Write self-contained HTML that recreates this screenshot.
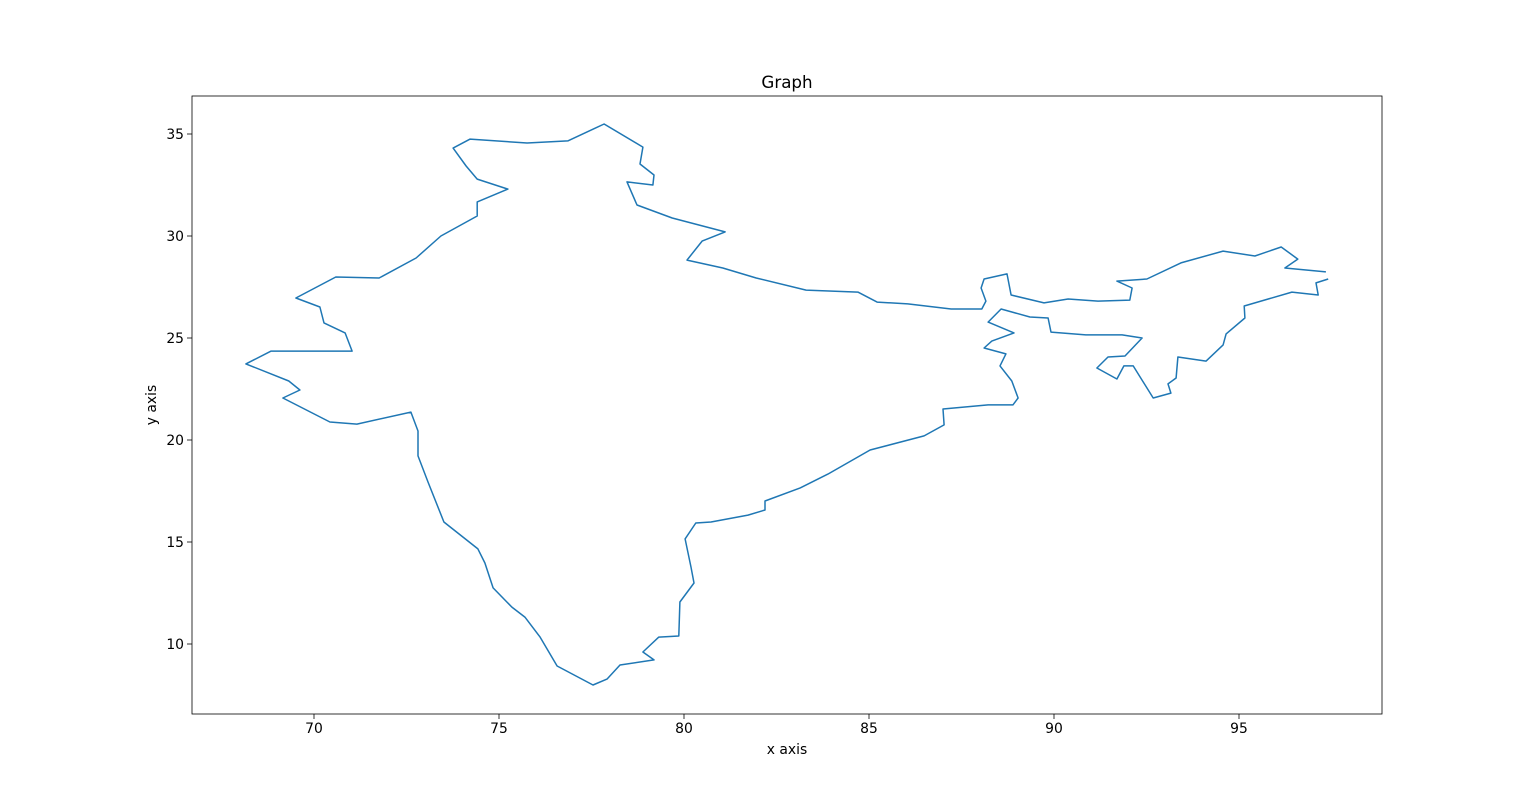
<!DOCTYPE html>
<html><head><meta charset="utf-8"><style>
html,body{margin:0;padding:0;background:#fff;}
svg{display:block;font-family:"DejaVu Sans","Liberation Sans",sans-serif;}
</style></head><body>
<svg id="chart" width="1536" height="802"></svg>
<script>
const lons=[97.41,97.08,97.14,96.43,95.14,95.16,94.65,94.57,94.11,93.35,93.30,93.08,93.16,92.68,92.14,91.89,91.70,91.16,91.46,91.92,92.38,91.84,90.86,89.92,89.84,89.35,88.57,88.22,88.92,88.32,88.11,88.70,88.54,88.86,89.03,88.89,88.22,87.00,87.03,86.49,85.03,83.89,83.14,82.19,82.19,81.73,80.73,80.32,80.03,80.19,80.27,79.89,79.86,79.32,78.89,79.19,78.27,77.92,77.54,76.57,76.11,75.70,75.35,74.84,74.62,74.43,73.51,73.08,72.81,72.81,72.62,71.16,70.43,69.16,69.62,69.32,68.16,68.84,71.03,70.84,70.27,70.16,69.51,70.59,71.76,72.76,73.43,74.41,74.41,75.24,74.41,74.11,73.76,74.22,75.76,76.86,77.84,78.89,78.81,79.19,79.16,78.46,78.73,79.68,81.11,80.49,80.08,81.05,81.95,83.30,84.70,85.22,86.05,87.22,88.05,88.16,88.03,88.11,88.73,88.84,89.73,90.38,91.19,92.05,92.11,91.70,92.51,93.43,94.57,95.43,96.14,96.59,96.24,97.35];
const lats=[27.89,27.70,27.11,27.25,26.57,25.98,25.20,24.66,23.87,24.07,23.04,22.75,22.30,22.06,23.63,23.63,22.99,23.53,24.07,24.12,25.00,25.15,25.15,25.29,25.98,26.03,26.42,25.78,25.25,24.85,24.51,24.22,23.63,22.89,22.06,21.72,21.72,21.52,20.74,20.20,19.51,18.33,17.65,17.01,16.57,16.32,15.98,15.93,15.15,13.77,12.99,12.06,10.39,10.34,9.61,9.22,8.97,8.28,7.99,8.92,10.34,11.32,11.81,12.75,13.97,14.66,15.98,17.94,19.22,20.44,21.37,20.78,20.88,22.06,22.45,22.89,23.73,24.36,24.36,25.25,25.74,26.52,26.96,27.99,27.94,28.92,30.00,30.98,31.67,32.30,32.79,33.43,34.31,34.75,34.56,34.66,35.49,34.36,33.53,32.99,32.50,32.65,31.52,30.88,30.20,29.75,28.82,28.43,27.94,27.35,27.25,26.76,26.67,26.42,26.42,26.81,27.45,27.89,28.14,27.11,26.72,26.91,26.81,26.86,27.45,27.79,27.89,28.68,29.26,29.02,29.46,28.87,28.43,28.24];
const xTicks=[70,75,80,85,90,95];
const yTicks=[10,15,20,25,30,35];

const NS='http://www.w3.org/2000/svg';
const svg=document.getElementById('chart');
const L=192,R=1382,T=96,B=714;
const x=v=>314+(v-70)*37;
const y=v=>134+(35-v)*20.4;
function mk(tag,attrs,parent){const e=document.createElementNS(NS,tag);for(const k in attrs)e.setAttribute(k,attrs[k]);(parent||svg).appendChild(e);return e;}

const pts=lons.map((v,i)=>x(v).toFixed(1)+','+y(lats[i]).toFixed(1)).join(' ');
const line=mk('polyline',{points:pts,fill:'none',stroke:'#1f77b4','stroke-width':1.5,'stroke-linejoin':'round'});



const frame=mk('rect',{x:L,y:T,width:R-L,height:B-T,fill:'none',stroke:'#000','stroke-width':0.8});



xTicks.forEach(t=>{
  const g=mk('g',{});
  
  
  mk('line',{x1:x(t),x2:x(t),y1:B,y2:B+5,stroke:'#000','stroke-width':0.8},g);
  const tx=mk('text',{x:x(t),y:B+19,'font-size':13.9,'text-anchor':'middle'},g);
  tx.textContent=t;
});
yTicks.forEach(t=>{
  const g=mk('g',{});
  
  
  mk('line',{x1:L-5,x2:L,y1:y(t),y2:y(t),stroke:'#000','stroke-width':0.8},g);
  const tx=mk('text',{x:L-8,y:y(t)+5,'font-size':13.9,'text-anchor':'end'},g);
  tx.textContent=t;
});
const title=mk('text',{x:787,y:88,'font-size':16.7,'text-anchor':'middle'});
title.textContent='Graph';


const xl=mk('text',{x:787,y:754,'font-size':13.9,'text-anchor':'middle'});
xl.textContent='x axis';


const yl=mk('text',{x:0,y:0,'font-size':13.9,'text-anchor':'middle',transform:'translate(156,405) rotate(-90)'});
yl.textContent='y axis';


</script>
</body></html>
